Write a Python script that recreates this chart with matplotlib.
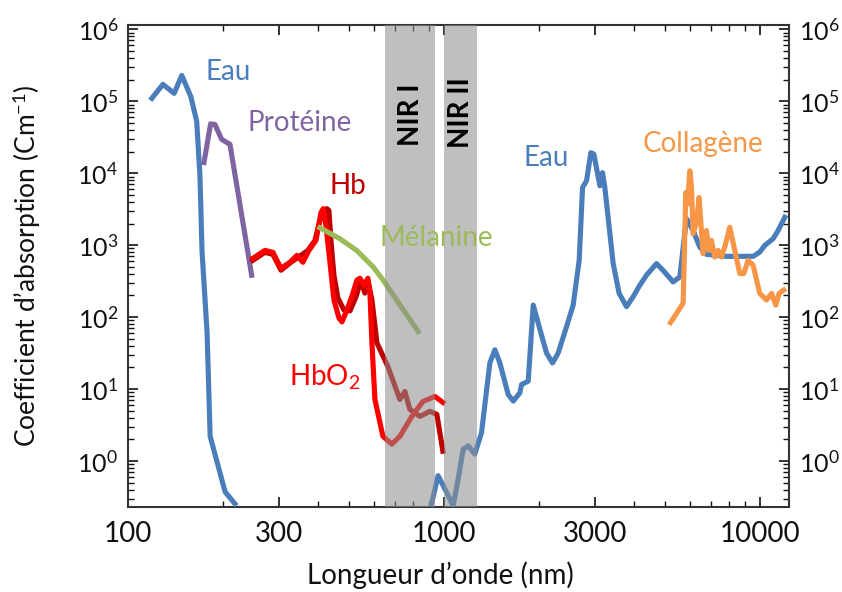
import numpy as np
import matplotlib
matplotlib.use("Agg")
import matplotlib.pyplot as plt
from matplotlib.ticker import FixedLocator, NullFormatter, LogLocator

plt.rcParams['font.family'] = ['Lato', 'DejaVu Sans']
plt.rcParams['mathtext.fontset'] = 'custom'
plt.rcParams['mathtext.rm'] = 'Lato'
plt.rcParams['mathtext.it'] = 'Lato:italic'
plt.rcParams['mathtext.bf'] = 'Lato:bold'

# ---- data (wavelength nm, absorption coefficient cm^-1) ----
eau_uv_x = [119, 129, 140, 148, 158, 165, 169, 171.5, 178, 182, 203, 218]
eau_uv_y = [1.10e5, 1.72e5, 1.29e5, 2.29e5, 1.17e5, 5.3e4, 9.2e3, 848, 60.5, 2.21, 0.373, 0.255]

eau_ir_x = [914, 959, 1007, 1070, 1110, 1151, 1194, 1253, 1316, 1398, 1450, 1504, 1598, 1658,
            1740, 1762, 1849, 1918, 2113, 2208, 2300, 2445, 2566, 2681, 2748, 2829, 2919, 2984,
            3117, 3178, 3232, 3435, 3588, 3786, 3973, 4172, 4379, 4711, 5005, 5316, 5583, 5861,
            6151, 6457, 6781, 7845, 9524, 10000, 10370, 11020, 11430, 12000]
eau_ir_y = [0.255, 0.627, 0.41, 0.241, 0.564, 1.46, 1.63, 1.25, 2.49, 23.1, 35.2, 23.1, 8.42, 6.81,
            8.89, 11.6, 12.9, 147, 31.7, 23.1, 31.7, 73.9, 147, 617, 6350, 7850, 1.93e4, 1.84e4,
            6700, 1.02e4, 6350, 555, 214, 140, 192, 278, 383, 555, 421, 309, 362, 2344,
            1600, 942, 746, 700, 700, 803, 993, 1230, 1600, 2445]

proteine_x = [174, 182.6, 188.5, 197.9, 210.3, 246.3]
proteine_y = [1.41e4, 4.86e4, 4.77e4, 2.96e4, 2.52e4, 383]

hbo2_x = [248.6, 271.4, 287.6, 305.0, 325.6, 342.6, 357.9, 374.0, 393.6, 408.2, 415.0, 423.3,
          435.8, 448.7, 465.4, 475.7, 493.3, 511.6, 530.5, 542.3, 558.2, 574.8, 583.3, 591.9,
          604.9, 641.2, 684.6, 725.6, 791.9, 858.2, 936.6, 992.7]
hbo2_y = [657, 848, 796, 478, 579, 723, 579, 848, 1166, 2838, 3222, 1877,
          579, 173, 97.5, 85.9, 126, 196, 326, 348, 278, 348, 216, 44,
          7.18, 2.21, 1.72, 2.21, 4.18, 6.74, 7.9, 6.53]

hb_x = [248.6, 271.4, 287.6, 305.0, 328.0, 352.7, 371.3, 390.8, 405.2, 417.2, 426.4, 432.6,
        439.0, 448.7, 461.9, 482.7, 504.2, 526.7, 546.3, 562.3, 574.8, 591.9, 613.8, 665.0,
        725.6, 752.6, 780.4, 839.8, 902.9, 950.2, 992.7]
hb_y = [617, 796, 746, 449, 579, 723, 848, 1166, 2200, 2838, 3222, 3025,
        1166, 383, 184, 126, 122, 190, 326, 216, 326, 173, 44, 20.5,
        7.18, 9.27, 5.23, 4.18, 4.91, 4.46, 1.37]

melanine_x = [405.2, 468.7, 529.3, 597.4, 642.7, 708.6, 829.4]
melanine_y = [1745, 1230, 848, 499, 326, 173, 63]

collagene_x = [5218, 5720, 5833, 5906, 6006, 6081, 6151, 6305, 6425, 6614, 6781, 6896, 7032,
               7204, 7379, 7564, 7747, 8036, 8334, 8644, 8900, 9184, 9524, 10000, 10500,
               10890, 11240, 11510, 11910]
collagene_y = [84, 156, 5410, 3740, 1.08e4, 6350, 1442, 2085, 4615, 763, 1600, 848, 1165,
               685, 848, 685, 942, 1778, 848, 404, 404, 617, 526, 214, 173,
               214, 147, 214, 238]

nir_bands = [(650, 935), (1000, 1275)]
nir_labels = ["NIR I", "NIR II"]

x_ticks = [100, 300, 1000, 3000, 10000]
x_ticklabels = ["100", "300", "1000", "3000", "10000"]
y_ticks = [1, 10, 100, 1e3, 1e4, 1e5, 1e6]
y_ticklabels = [r"10$^{%d}$" % i for i in range(7)]

# ---- colours ----
c_eau = '#4A7EBB'
c_prot = '#8064A2'
c_hb = '#C00000'
c_hbo2 = '#FF0000'
c_mel = '#9BBB59'
c_col = '#F79646'

fig = plt.figure(figsize=(8.42, 5.92), dpi=100)
ax = fig.add_axes([0.152, 0.1436, 0.785, 0.8142])

lw = 3.7
ax.plot(eau_uv_x, eau_uv_y, color=c_eau, lw=lw, solid_joinstyle='round', zorder=3)
ax.plot(eau_ir_x, eau_ir_y, color=c_eau, lw=lw, solid_joinstyle='round', zorder=3)
ax.plot(proteine_x, proteine_y, color=c_prot, lw=lw, solid_joinstyle='round', zorder=3)
ax.plot(hb_x, hb_y, color=c_hb, lw=lw, solid_joinstyle='round', zorder=3)
ax.plot(hbo2_x, hbo2_y, color=c_hbo2, lw=lw, solid_joinstyle='round', zorder=3)
ax.plot(melanine_x, melanine_y, color=c_mel, lw=lw, solid_joinstyle='round', zorder=3)
ax.plot(collagene_x, collagene_y, color=c_col, lw=lw, solid_joinstyle='round', zorder=3)

for (a, b) in nir_bands:
    ax.axvspan(a, b, color=(142/255, 142/255, 142/255), alpha=0.565, lw=0, zorder=4)

ax.set_xscale('log')
ax.set_yscale('log')
ax.set_xlim(100, 12370)
ax.set_ylim(0.23, 1.15e6)

ax.xaxis.set_major_locator(FixedLocator(x_ticks))
ax.set_xticklabels(x_ticklabels)
ax.xaxis.set_minor_locator(LogLocator(base=10, subs=np.arange(1, 10), numticks=20))
ax.xaxis.set_minor_formatter(NullFormatter())
ax.yaxis.set_major_locator(FixedLocator(y_ticks))
ax.set_yticklabels(y_ticklabels)
ax.yaxis.set_minor_locator(LogLocator(base=10, subs=np.arange(1, 10), numticks=20))
ax.yaxis.set_minor_formatter(NullFormatter())

ax.tick_params(which='both', direction='in', top=True, right=True, labelright=True,
               colors='#111111')
ax.tick_params(which='major', length=7, width=1.2)
ax.tick_params(which='minor', length=4, width=1.0)
ax.tick_params(axis='x', pad=10, labelsize=20)
ax.tick_params(axis='y', pad=7, labelsize=18)
for s in ax.spines.values():
    s.set_linewidth(1.5)
    s.set_color('#333333')

ax.set_xlabel("Longueur d\u2019onde (nm)", fontsize=20, color='#111111')
ax.set_ylabel("Coefficient d\u2019absorption (Cm$^{-1}$)", fontsize=19, color='#111111')
ax.xaxis.set_label_coords(0.473, -0.112)
ax.yaxis.set_label_coords(-0.128, 0.5)

fs = 20
tk = dict(transform=ax.transAxes, ha='center', va='center', fontsize=fs, zorder=6)
ax.text(0.151, 0.902, "Eau", color=c_eau, **tk)
ax.text(0.260, 0.797, "Prot\u00e9ine", color=c_prot, **tk)
ax.text(0.333, 0.666, "Hb", color=c_hb, **tk)
ax.text(0.467, 0.558, "M\u00e9lanine", color=c_mel, **tk)
ax.text(0.298, 0.270, "HbO$_2$", color=c_hbo2, **tk)
ax.text(0.632, 0.724, "Eau", color=c_eau, **tk)
ax.text(0.870, 0.753, "Collag\u00e8ne", color=c_col, **tk)
ax.text(0.428, 0.813, nir_labels[0], rotation=90, fontweight='bold', color='black', **tk)
ax.text(0.504, 0.819, nir_labels[1], rotation=90, fontweight='bold', color='black', **tk)

fig.savefig("out.png", dpi=100)
